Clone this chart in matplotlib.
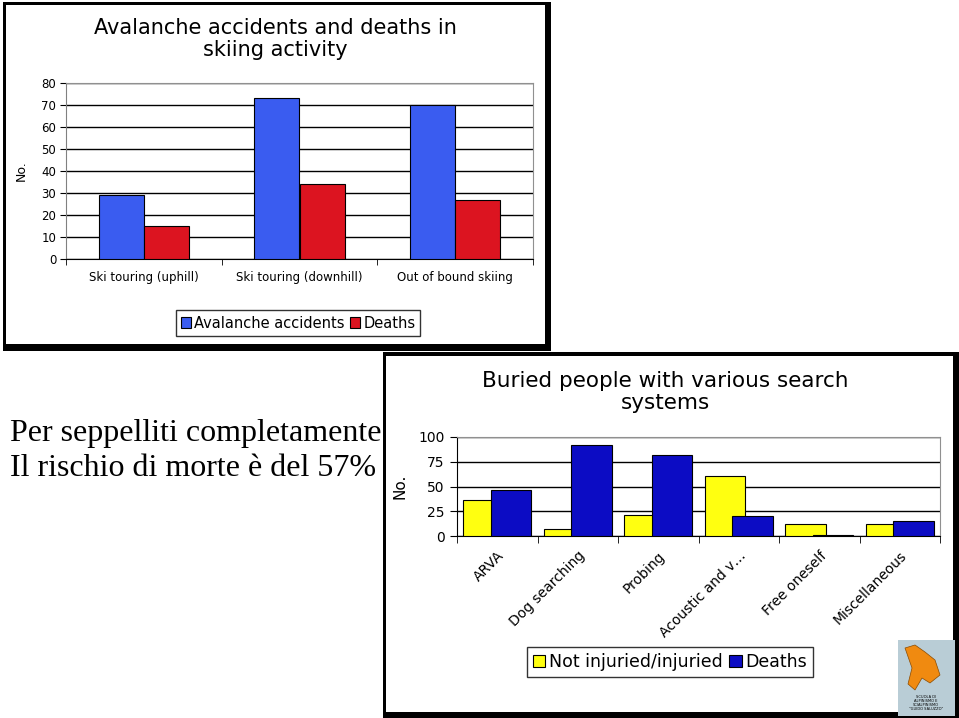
import matplotlib
matplotlib.use("Agg")
import matplotlib.pyplot as plt
import numpy as np
from matplotlib.patches import Rectangle, Polygon

W, H = 959, 718

# chart 1 data
cats1 = ["Ski touring (uphill)", "Ski touring (downhill)", "Out of bound skiing"]
accidents = [29, 73, 70]
deaths1 = [15, 34, 27]

# chart 2 data
cats2 = ["ARVA", "Dog searching", "Probing", "Acoustic and v\u2026", "Free oneself", "Miscellaneous"]
not_injured = [36, 7, 21, 61, 12, 12]
deaths2 = [46, 92, 82, 20, 1, 15]

caption = ["Per seppelliti completamente", "Il rischio di morte \u00e8 del 57%"]


def rect(x0, y0, x1, y1):
    # pixel box (top-left origin) -> figure fraction
    return [x0 / W, 1 - y1 / H, (x1 - x0) / W, (y1 - y0) / H]


def box(fig, x0, y0, x1, y1, **kw):
    l, b, w, h = rect(x0, y0, x1, y1)
    fig.patches.append(Rectangle((l, b), w, h, transform=fig.transFigure, **kw))


def fpos(x, y):
    return x / W, 1 - y / H


fig = plt.figure(figsize=(W / 100, H / 100), dpi=100)
fig.patch.set_facecolor("white")

# frames (thin left/top, thick right/bottom), kept under the axes
box(fig, 3, 2, 551, 351, facecolor="black", edgecolor="none", zorder=-3)
box(fig, 6, 5, 545, 344, facecolor="white", edgecolor="none", zorder=-2)
box(fig, 383, 352, 959, 718, facecolor="black", edgecolor="none", zorder=-3)
box(fig, 386, 356, 953, 712, facecolor="white", edgecolor="none", zorder=-2)

sans = "DejaVu Sans"

# ---- chart 1 ----
ax1 = fig.add_axes(rect(66, 83, 533, 259))
x = np.arange(len(cats1))
bw = 0.29
ax1.bar(x - bw / 2, accidents, bw, color="#3a5cf0", edgecolor="black", linewidth=0.8,
        label="Avalanche accidents", zorder=3)
ax1.bar(x + bw / 2, deaths1, bw, color="#dc1420", edgecolor="black", linewidth=0.8,
        label="Deaths", zorder=3)
ax1.set_xlim(-0.5, 2.5)
ax1.set_ylim(0, 80)
ax1.set_yticks(range(0, 81, 10))
ax1.yaxis.grid(True, color="black", linewidth=1, zorder=0)
ax1.set_axisbelow(True)
ax1.set_xticks(x)
ax1.set_xticklabels(cats1, fontsize=8.5, family=sans)
ax1.set_xticks([-0.5, 0.5, 1.5, 2.5], minor=True)
ax1.tick_params(axis="x", which="major", length=0, pad=9)
ax1.tick_params(axis="x", which="minor", length=4, direction="out")
ax1.tick_params(axis="y", length=4, labelsize=8.5, pad=3)
for s in ["top", "right"]:
    ax1.spines[s].set_color("#909090")
ax1.spines["left"].set_color("#808080")
ax1.spines["bottom"].set_color("black")
ax1.set_ylabel("No.", fontsize=9, family=sans, labelpad=10)
ax1.legend(loc="center", bbox_to_anchor=fpos(298, 323), bbox_transform=fig.transFigure,
           ncol=2, fontsize=10.5, frameon=True, fancybox=False, edgecolor="black",
           handlelength=0.7, handleheight=0.7, handletextpad=0.2, columnspacing=0.4,
           borderpad=0.35, borderaxespad=0)
fig.text(*fpos(275, 39), "Avalanche accidents and deaths in\nskiing activity", ha="center",
         va="center", fontsize=15, family=sans, linespacing=1.15)

# ---- chart 2 ----
ax2 = fig.add_axes(rect(457, 437, 940, 536))
x2 = np.arange(len(cats2))
bw2 = 0.5
ax2.bar(x2 - 0.17, not_injured, bw2, color="#ffff10", edgecolor="black", linewidth=0.8,
        label="Not injuried/injuried", zorder=3)
ax2.bar(x2 + 0.17, deaths2, bw2, color="#0c0cc4", edgecolor="black", linewidth=0.8,
        label="Deaths", zorder=4)
ax2.set_xlim(-0.5, 5.5)
ax2.set_ylim(0, 100)
ax2.set_yticks(range(0, 101, 25))
ax2.yaxis.grid(True, color="black", linewidth=1, zorder=0)
ax2.set_axisbelow(True)
ax2.set_xticks(x2)
ax2.set_xticklabels(cats2, rotation=45, ha="right", rotation_mode="anchor",
                    fontsize=10, family=sans)
ax2.set_xticks(np.arange(-0.5, 6, 1), minor=True)
ax2.tick_params(axis="x", which="major", length=0, pad=9)
ax2.tick_params(axis="x", which="minor", length=5, direction="out")
ax2.tick_params(axis="y", length=5, labelsize=10, pad=4)
for s in ["top", "right"]:
    ax2.spines[s].set_color("#909090")
ax2.spines["left"].set_color("black")
ax2.spines["bottom"].set_color("black")
ax2.set_ylabel("No.", fontsize=11, family=sans, labelpad=8)
ax2.legend(loc="center", bbox_to_anchor=fpos(670, 662), bbox_transform=fig.transFigure,
           ncol=2, fontsize=12.5, frameon=True, fancybox=False, edgecolor="black",
           handlelength=0.7, handleheight=0.7, handletextpad=0.2, columnspacing=0.4,
           borderpad=0.35, borderaxespad=0)
fig.text(*fpos(665, 392), "Buried people with various search\nsystems", ha="center",
         va="center", fontsize=15.5, family=sans, linespacing=1.1)

# ---- caption text ----
fig.text(*fpos(10, 433), caption[0], ha="left", va="center", fontsize=23,
         family="Liberation Serif")
fig.text(*fpos(10, 469), caption[1], ha="left", va="center", fontsize=23,
         family="Liberation Serif")

# ---- small school logo ----
box(fig, 898, 640, 955, 716, facecolor="#b9cdd6", edgecolor="none", zorder=5)
logo = [(905, 648), (915, 645), (925, 652), (935, 660), (940, 675), (930, 683),
        (922, 678), (915, 690), (908, 684), (912, 668)]
fig.patches.append(Polygon([fpos(px, py) for px, py in logo], closed=True,
                           transform=fig.transFigure, facecolor="#f08a10",
                           edgecolor="#8a4a00", linewidth=0.5, zorder=6))
fig.text(*fpos(926, 703), "SCUOLA DI\nALPINISMO E\nSCIALPINISMO\n\"GUIDO SALUZZO\"",
         ha="center", va="center", fontsize=2.6, family=sans, linespacing=1.0, zorder=7)

fig.savefig("out.png", dpi=100)
